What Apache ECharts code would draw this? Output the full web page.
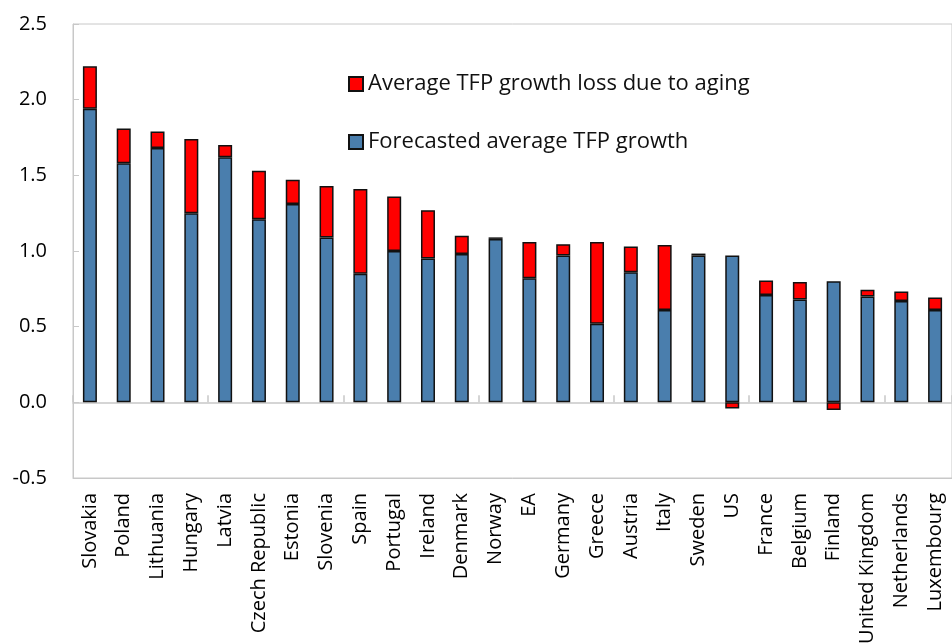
<!DOCTYPE html>
<html>
<head>
<meta charset="utf-8">
<script src="https://cdn.jsdelivr.net/npm/echarts@6/dist/echarts.min.js"></script>
<style>
	html, body { margin: 0; padding: 0; background: #fff; }
	#main { width: 952px; height: 643px; }
</style>
</head>
<body>
<div id="main"></div>
<script>
// 国家/地区
var countries = ['Slovakia', 'Poland', 'Lithuania', 'Hungary', 'Latvia', 'Czech Republic', 'Estonia',
	'Slovenia', 'Spain', 'Portugal', 'Ireland', 'Denmark', 'Norway', 'EA', 'Germany', 'Greece',
	'Austria', 'Italy', 'Sweden', 'US', 'France', 'Belgium', 'Finland', 'United Kingdom',
	'Netherlands', 'Luxembourg'];
// 预测的平均TFP增长
var forecastGrowth = [1.94, 1.58, 1.68, 1.25, 1.62, 1.21, 1.31, 1.09, 0.85, 1.00, 0.95, 0.98, 1.08,
	0.82, 0.97, 0.52, 0.86, 0.61, 0.97, 0.97, 0.71, 0.68, 0.80, 0.70, 0.67, 0.61];
// 老龄化造成的损失
var agingLoss = [0.28, 0.23, 0.11, 0.49, 0.08, 0.32, 0.16, 0.34, 0.56, 0.36, 0.32, 0.12, 0.01,
	0.24, 0.075, 0.54, 0.17, 0.43, 0.013, -0.04, 0.095, 0.115, -0.05, 0.044, 0.063, 0.083];
var yTicks = [-0.5, 0.0, 0.5, 1.0, 1.5, 2.0, 2.5];

var lossName = 'Average TFP growth loss due to aging';
var forecastName = 'Forecasted average TFP growth';

var myChart = echarts.init(document.getElementById('main'));
var fontFamily = '"Open Sans", "Noto Sans", sans-serif';

var option = {
	backgroundColor: '#fff',
	animation: false,
	textStyle: { fontFamily: fontFamily },
	grid: {
		left: 73,
		top: 24,
		right: 0,
		bottom: 165,
		outerBoundsMode: 'none', // 不要因为标签超出而缩小绘图区
		show: true,
		borderColor: '#c8c8c8',
		borderWidth: 1
	},
	legend: {
		orient: 'vertical',
		left: 343,
		top: 68,
		itemGap: 36,
		itemWidth: 14,
		itemHeight: 14,
		icon: 'rect',
		textStyle: { fontSize: 22, color: '#111', fontFamily: fontFamily },
		data: [lossName, forecastName]
	},
	xAxis: [{
		type: 'category',
		data: countries,
		position: 'bottom',
		axisLine: { onZero: false, lineStyle: { color: '#c8c8c8' } },
		axisTick: { show: false },
		axisLabel: {
			rotate: 90,
			interval: 0,
			margin: 15,
			fontSize: 20,
			color: '#000',
			fontFamily: fontFamily
		}
	}, {
		type: 'category',
		data: countries,
		position: 'bottom',
		axisLine: { onZero: true, lineStyle: { color: '#c8c8c8', width: 1.5 } },
		axisTick: { show: true, inside: true, length: 7, lineStyle: { color: '#c8c8c8', width: 1.5 } },
		axisLabel: { show: false }
	}],
	yAxis: {
		type: 'value',
		min: yTicks[0],
		max: yTicks[yTicks.length - 1],
		interval: 0.5,
		axisLine: { show: true, lineStyle: { color: '#c8c8c8' } },
		axisTick: { show: true, inside: true, length: 6, lineStyle: { color: '#c8c8c8' } },
		splitLine: { show: false },
		axisLabel: {
			margin: 26,
			fontSize: 20,
			color: '#000',
			fontFamily: fontFamily,
			formatter: function(v) { return v.toFixed(1); }
		}
	},
	series: [{
		name: forecastName,
		type: 'bar',
		stack: 'tfp',
		barWidth: 14,
		xAxisIndex: 0,
		data: forecastGrowth,
		itemStyle: { color: '#4a7ead', borderColor: '#111', borderWidth: 1.5 }
	}, {
		name: lossName,
		type: 'bar',
		stack: 'tfp',
		barWidth: 14,
		xAxisIndex: 0,
		data: agingLoss,
		itemStyle: { color: '#ff0000', borderColor: '#111', borderWidth: 1.5 }
	}]
};

myChart.setOption(option);
</script>
</body>
</html>
